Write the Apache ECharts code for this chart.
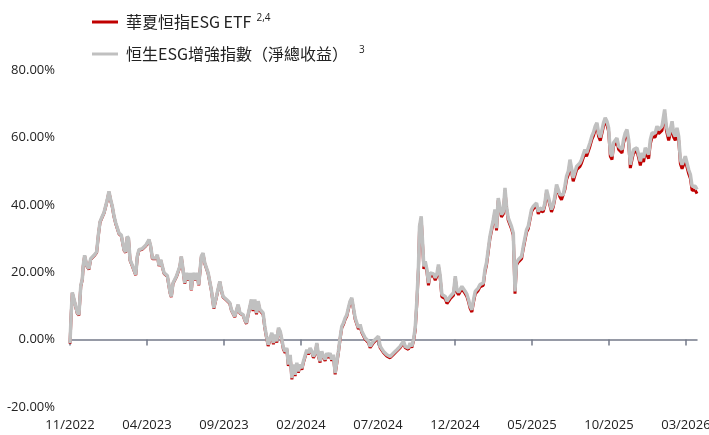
<!DOCTYPE html>
<html>
<head>
<meta charset="utf-8">
<script src="https://cdn.jsdelivr.net/npm/echarts@6/dist/echarts.min.js"></script>
<style>
html,body{margin:0;padding:0;background:#fff;}
#chart{width:709px;height:435px;}
</style>
</head>
<body>
<div id="chart"></div>
<script>
// x: months elapsed since start of 11/2022
const months = [
0, 0.08, 0.15, 0.26, 0.47, 0.58, 0.70, 0.80, 0.86, 0.95,
1.09, 1.23, 1.34, 1.56, 1.73, 1.84, 1.95, 2.10, 2.21, 2.32,
2.42, 2.53, 2.64, 2.75, 2.86, 2.97, 3.07, 3.18, 3.33, 3.51,
3.62, 3.72, 3.80, 3.90, 4.05, 4.16, 4.27, 4.37, 4.48, 4.70,
4.92, 5.13, 5.24, 5.35, 5.57, 5.67, 5.78, 5.89, 6.00, 6.11,
6.32, 6.50, 6.58, 6.69, 6.91, 7.13, 7.23, 7.34, 7.45, 7.56,
7.67, 7.78, 7.88, 7.99, 8.14, 8.24, 8.36, 8.53, 8.64, 8.75,
8.97, 9.18, 9.34, 9.51, 9.73, 9.83, 9.94, 10.16, 10.38, 10.48,
10.70, 10.81, 10.92, 11.03, 11.24, 11.35, 11.46, 11.57, 11.78, 11.89,
12.00, 12.11, 12.22, 12.33, 12.54, 12.65, 12.76, 12.87, 13.00, 13.11,
13.21, 13.32, 13.43, 13.54, 13.65, 13.76, 13.86, 13.97, 14.08, 14.18,
14.30, 14.41, 14.51, 14.62, 14.73, 14.83, 14.94, 15.06, 15.16, 15.27,
15.38, 15.48, 15.59, 15.71, 15.81, 15.92, 16.03, 16.13, 16.24, 16.35,
16.46, 16.57, 16.68, 16.78, 16.89, 17.00, 17.11, 17.22, 17.33, 17.43,
17.54, 17.65, 17.76, 17.87, 17.98, 18.08, 18.19, 18.30, 18.41, 18.52,
18.63, 18.73, 18.84, 18.95, 19.06, 19.17, 19.28, 19.38, 19.49, 19.60,
19.71, 19.82, 20.03, 20.14, 20.36, 20.58, 20.79, 21.01, 21.23, 21.44,
21.66, 21.77, 21.98, 22.09, 22.20, 22.31, 22.42, 22.53, 22.63, 22.70,
22.81, 22.92, 22.98, 23.07, 23.18, 23.28, 23.39, 23.61, 23.72, 23.83,
23.93, 24.04, 24.15, 24.37, 24.48, 24.69, 24.91, 25.02, 25.13, 25.23,
25.45, 25.56, 25.67, 25.78, 25.88, 25.99, 26.10, 26.21, 26.32, 26.43,
26.51, 26.62, 26.84, 26.95, 27.05, 27.16, 27.27, 27.38, 27.49, 27.60,
27.70, 27.81, 27.92, 28.02, 28.14, 28.25, 28.35, 28.46, 28.57, 28.67,
28.79, 28.90, 29.00, 29.11, 29.33, 29.44, 29.55, 29.65, 29.76, 29.87,
29.97, 30.08, 30.20, 30.30, 30.41, 30.52, 30.73, 30.84, 30.95, 31.06,
31.17, 31.27, 31.38, 31.49, 31.60, 31.71, 31.82, 31.92, 32.03, 32.14,
32.25, 32.36, 32.47, 32.57, 32.68, 32.79, 32.90, 33.01, 33.12, 33.22,
33.33, 33.44, 33.55, 33.66, 33.77, 33.90, 34.00, 34.11, 34.22, 34.33,
34.44, 34.55, 34.65, 34.76, 34.87, 34.98, 35.09, 35.20, 35.30, 35.41,
35.52, 35.63, 35.74, 35.85, 35.95, 36.06, 36.17, 36.28, 36.39, 36.50,
36.60, 36.71, 36.82, 36.93, 37.04, 37.15, 37.25, 37.36, 37.47, 37.58,
37.69, 37.80, 37.90, 38.01, 38.12, 38.23, 38.34, 38.45, 38.55, 38.62,
38.73, 38.88, 38.99, 39.10, 39.20, 39.31, 39.42, 39.53, 39.64, 39.75,
39.85, 39.96, 40.07, 40.18, 40.29, 40.40, 40.50, 40.61, 40.72
];

// 恒生ESG增強指數（淨總收益） cumulative return, %
const indexReturn = [
-1.0, 8, 14, 12, 8, 7.4, 16, 18, 22, 25,
22, 21, 24, 25, 26, 31, 35, 36.6, 37.7, 38,
41.5, 44, 41.5, 39.5, 36.6, 34.6, 34.6, 31.6, 31, 26.7,
26, 30.6, 30, 23.7, 22, 21.7, 19.3, 24.7, 26.7, 27,
28, 29.7, 27.7, 24.2, 24.2, 25.2, 22, 23.7, 21.7, 19.8,
19, 14, 12.8, 16.8, 18.8, 21.7, 24.7, 20.8, 16.8, 19.8,
17.8, 19.8, 14.8, 19.8, 17.8, 19.8, 16.3, 24.7, 25.7, 22.8,
19.8, 14.8, 9.4, 12.8, 17.3, 14.8, 12.8, 11.9, 10.9, 8.9,
6.9, 6.4, 10.4, 8, 7.4, 5.9, 4.9, 7.5, 11.9, 8.9,
11.9, 7.9, 11.4, 9, 7.9, 3.9, 1, -1.5, 0.5, 2,
-1, 1.5, -0.5, 3.5, 2.5, 0, -2.5, -3.5, -2.5, -7.4,
-4.5, -11.4, -7.4, -10.4, -6.9, -9.4, -7.4, -8.5, -6.4, -6.9,
-3, -4, -2.5, -3.5, -5, -4, -1, -4.5, -6.4, -3.5,
-5, -5.9, -4, -5, -4, -5.9, -4.5, -9.9, -9.9, -3.5,
0.5, 3.9, 4.9, 6.4, 7.4, 9.4, 11.4, 12.4, 9.4, 6.4,
5.9, 3.5, 4.5, 2.5, 2, 0.5, 1, -0.5, -2, -2.5,
-0.5, -1, 1, -2, -3.5, -4.5, -5, -4, -3, -2,
-0.5, -2, -2.5, -1, -2, 0, 3.5, 11.9, 21.7, 33.6,
36.6, 36.6, 21.7, 23.2, 20.8, 16.8, 19.8, 19.5, 18.3, 19.5,
22.3, 19, 13.4, 12.8, 11.4, 12.8, 13.9, 18.8, 14.8, 14,
15.8, 15.3, 14.3, 13.4, 11.9, 9.9, 8.9, 11.9, 14.3, 14.8,
15.3, 16.3, 16.8, 20.8, 22.8, 26.7, 30.6, 30.3, 35.6, 38.6,
33.1, 42, 41.5, 37.1, 38, 45, 39.5, 36.1, 35.6, 33.6,
31.6, 14.3, 22.8, 23.7, 24.7, 27.7, 27.7, 32.6, 33.6, 33.8,
38.6, 39.5, 39, 40.5, 38, 39, 38.6, 40.5, 44.5, 42.5,
42, 38.6, 40, 42.5, 46, 44.5, 43, 42.5, 43, 45.5,
48.5, 49.9, 53.4, 50.9, 48, 48.5, 51.4, 51, 52.4, 53.4,
53.4, 56.4, 55.4, 55.5, 58.4, 60.5, 61.5, 63.3, 64.3, 61.3,
60, 60.5, 64.3, 65.8, 64.8, 62.8, 55.4, 54.4, 58.4, 58.7,
59.8, 57.4, 57.8, 56.4, 59.3, 61.3, 62.3, 59.3, 51.9, 54.4,
56.4, 56, 56.9, 54.9, 52.9, 55.4, 53.9, 56.9, 56.4, 54.9,
59.3, 61.3, 61.8, 61.3, 63.3, 62.3, 61.8, 63.3, 66.3, 68.3,
63.3, 60.3, 62.3, 64.8, 61.3, 60.3, 62.8, 60.3, 53.4, 51.9,
51.9, 54.4, 54.9, 50.4, 49, 45.5, 45, 45.5, 44.5
];

// 華夏恒指ESG ETF cumulative return, %
const etfReturn = [
-1.2, 7.8, 13.8, 11.8, 7.8, 7.2, 15.8, 17.8, 21.8, 24.8,
21.8, 20.8, 23.8, 24.8, 25.8, 30.8, 34.8, 36.4, 37.5, 37.8,
41.3, 43.8, 41.3, 39.3, 36.4, 34.4, 34.4, 31.4, 30.8, 26.5,
25.8, 30.4, 29.8, 23.5, 21.8, 21.5, 19.1, 24.5, 26.5, 26.8,
27.8, 29.5, 27.5, 24.0, 24.0, 25.0, 21.8, 23.5, 21.5, 19.6,
18.8, 13.8, 12.6, 16.6, 18.6, 21.5, 24.5, 20.6, 16.6, 19.6,
17.6, 19.6, 14.6, 19.6, 17.6, 19.6, 16.1, 24.5, 25.5, 22.6,
19.6, 14.6, 9.2, 12.6, 17.1, 14.6, 12.6, 11.7, 10.7, 8.7,
6.7, 6.2, 10.2, 7.8, 7.2, 5.7, 4.7, 7.3, 11.5, 8.5,
11.5, 7.5, 11.0, 8.6, 7.5, 3.5, 0.6, -1.9, 0.1, 1.6,
-1.4, 1.1, -0.9, 3.1, 2.1, -0.4, -2.9, -3.9, -2.9, -7.8,
-4.9, -11.8, -7.8, -10.8, -7.3, -9.8, -7.8, -8.9, -6.8, -7.3,
-3.4, -4.4, -2.9, -3.9, -5.4, -4.4, -1.4, -4.9, -6.8, -3.9,
-5.4, -6.3, -4.4, -5.4, -4.4, -6.3, -4.9, -10.3, -10.3, -3.9,
0.1, 3.5, 4.5, 6.0, 7.0, 9.0, 11.0, 12.0, 9.0, 6.0,
5.5, 3.1, 4.1, 2.1, 1.6, 0.1, 0.6, -0.9, -2.4, -2.9,
-0.9, -1.4, 0.6, -2.4, -3.9, -4.9, -5.4, -4.4, -3.4, -2.4,
-0.9, -2.4, -2.9, -1.4, -2.4, -0.4, 2.8, 11.2, 21.0, 32.9,
35.9, 35.9, 21.0, 22.5, 20.1, 16.1, 19.1, 18.8, 17.6, 18.8,
21.6, 18.3, 12.7, 12.1, 10.7, 12.1, 13.2, 18.1, 14.1, 13.3,
15.1, 14.6, 13.6, 12.7, 11.2, 9.2, 8.2, 11.2, 13.6, 14.1,
14.6, 15.6, 16.1, 20.1, 22.1, 26.0, 29.9, 29.6, 34.9, 37.9,
32.4, 41.3, 40.8, 36.4, 37.3, 44.3, 38.8, 35.4, 34.9, 32.9,
30.9, 13.6, 22.1, 23.0, 24.0, 27.0, 27.0, 31.9, 32.9, 33.1,
37.9, 38.8, 38.3, 39.8, 37.3, 38.3, 37.9, 39.8, 43.8, 41.8,
41.3, 37.9, 39.3, 41.8, 45.3, 43.8, 42.3, 41.5, 42.0, 44.5,
47.5, 48.9, 52.4, 49.9, 47.0, 47.5, 50.4, 50.0, 51.4, 52.4,
52.4, 55.4, 54.4, 54.5, 57.4, 59.5, 60.5, 62.3, 63.3, 60.3,
59.0, 59.5, 63.3, 64.8, 63.8, 61.8, 54.4, 53.4, 57.4, 57.7,
58.8, 56.4, 56.8, 55.4, 58.3, 60.3, 61.3, 58.3, 50.9, 53.4,
55.4, 55.0, 55.9, 53.9, 51.7, 54.2, 52.7, 55.7, 55.2, 53.7,
58.1, 60.1, 60.6, 60.1, 62.1, 61.1, 60.6, 62.1, 65.1, 67.1,
62.1, 59.1, 61.1, 63.6, 60.1, 59.1, 61.6, 59.1, 52.2, 50.7,
50.7, 53.2, 53.7, 49.2, 47.8, 44.3, 43.8, 44.3, 43.3
];

const tickMonths = [0, 5, 10, 15, 20, 25, 30, 35, 40];
const tickLabels = ['11/2022', '04/2023', '09/2023', '02/2024', '07/2024', '12/2024', '05/2025', '10/2025', '03/2026'];

const yTicks = [-20, 0, 20, 40, 60, 80];

const seriesNames = ['華夏恒指ESG ETF', '恒生ESG增強指數（淨總收益）'];
const seriesNotes = ['2,4', '3'];

const etfData = months.map((m, i) => [m, etfReturn[i]]);
const idxData = months.map((m, i) => [m, indexReturn[i]]);

const axisColor = '#747a89';
const labelFont = '"Open Sans", "Noto Sans", sans-serif';

const chart = echarts.init(document.getElementById('chart'), null, { renderer: 'canvas' });
chart.setOption({
  animation: false,
  backgroundColor: '#ffffff',
  grid: { left: 70, right: 12, top: 70, bottom: 28, containLabel: false, outerBoundsMode: 'none' },
  legend: {
    orient: 'vertical',
    left: 87,
    top: 8,
    itemGap: 15,
    itemWidth: 26,
    itemHeight: 3,
    icon: 'rect',
    data: seriesNames,
    formatter: function (name) {
      const i = seriesNames.indexOf(name);
      return '{t|' + name + '}{s' + i + '|' + seriesNotes[i] + '}';
    },
    textStyle: {
      color: '#222',
      rich: {
        t: { fontFamily: '"Noto Sans CJK TC", sans-serif', fontSize: 16, color: '#222', lineHeight: 22, padding: [0, 0, 0, 3] },
        s0: { fontFamily: labelFont, fontSize: 10, color: '#222', padding: [0, 0, 8, 5] },
        s1: { fontFamily: labelFont, fontSize: 10, color: '#222', padding: [0, 0, 8, 11] }
      }
    }
  },
  xAxis: {
    type: 'value',
    min: 0,
    max: 40.72,
    interval: 5,
    axisLine: { show: true, onZero: true, lineStyle: { color: axisColor, width: 1.5 } },
    axisTick: { show: true, length: 6, customValues: tickMonths, lineStyle: { color: axisColor, width: 1.5 } },
    axisLabel: {
      customValues: tickMonths,
      margin: 12,
      fontSize: 13,
      fontFamily: labelFont,
      color: '#222',
      formatter: function (v) {
        const k = tickMonths.indexOf(Math.round(v));
        return k >= 0 ? tickLabels[k] : '';
      }
    },
    splitLine: { show: false }
  },
  yAxis: {
    type: 'value',
    min: yTicks[0],
    max: yTicks[yTicks.length - 1],
    interval: 20,
    axisLine: { show: false },
    axisTick: { show: false },
    splitLine: { show: false },
    axisLabel: {
      margin: 15,
      fontSize: 13,
      fontFamily: labelFont,
      color: '#222',
      formatter: function (v) { return v.toFixed(2) + '%'; }
    }
  },
  series: [
    {
      name: seriesNames[0],
      type: 'line',
      data: etfData,
      showSymbol: false,
      symbol: 'none',
      color: '#c00000',
      lineStyle: { color: '#c00000', width: 3 },
      z: 2
    },
    {
      name: seriesNames[1],
      type: 'line',
      data: idxData,
      showSymbol: false,
      symbol: 'none',
      color: '#c0c0c0',
      lineStyle: { color: '#c0c0c0', width: 3.5 },
      z: 3
    }
  ]
});
</script>
</body>
</html>
